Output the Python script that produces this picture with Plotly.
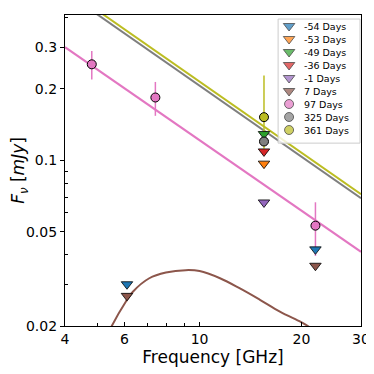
import math
import plotly.graph_objects as go

# ---------------- data ----------------
neg54_freq = [6.1, 22.0]
neg54_flux = [0.0300, 0.0421]
neg53_freq = [15.5]
neg53_flux = [0.0968]
neg49_freq = [15.5]
neg49_flux = [0.129]
neg36_freq = [15.5]
neg36_flux = [0.109]
neg1_freq = [15.5]
neg1_flux = [0.0664]
d7_freq = [6.1, 22.0]
d7_flux = [0.0268, 0.0359]
d97_freq = [4.8, 7.4, 22.0]
d97_flux = [0.254, 0.184, 0.053]
d97_err = [0.035, 0.030, 0.0135]
d325_freq = [15.5]
d325_flux = [0.120]
d361_freq = [15.5]
d361_flux = [0.152]
d361_err_plus = [0.076]
d361_err_minus = [0.040]

# power-law fits (endpoints at 4 and 30 GHz)
fit_freq = [4.0, 30.0]
fit97_flux = [0.300, 0.0411]
fit325_flux = [0.513, 0.0692]
fit361_flux = [0.534, 0.0719]

# 7-day model spectrum
model7_freq = [5.3, 5.5, 6.05, 6.35, 7.1, 7.95, 9.1, 10.0, 11.49, 13.16, 15.08, 17.27, 19.9, 20.9, 21.6]
model7_flux = [0.0178, 0.0200, 0.0253, 0.0279, 0.0318, 0.0336, 0.0344, 0.0341, 0.0318, 0.0288, 0.0258, 0.0230, 0.0208, 0.0200, 0.0194]

x_ticks = [4, 6, 10, 20, 30]
x_minor = [5, 7, 8, 9]
y_ticks = [0.02, 0.05, 0.1, 0.2, 0.3]
y_minor = [0.03, 0.04, 0.06, 0.07, 0.08, 0.09, 0.4]

legend_labels = ["-54 Days", "-53 Days", "-49 Days", "-36 Days", "-1 Days",
                 "7 Days", "97 Days", "325 Days", "361 Days"]

# ---------------- styles ----------------
C = {
    "blue": "#1f77b4", "orange": "#ff7f0e", "green": "#2ca02c", "red": "#d62728",
    "purple": "#9467bd", "brown": "#8c564b", "pink": "#e377c2", "gray": "#7f7f7f",
    "olive": "#bcbd22",
}
legend_colors = [C["blue"], C["orange"], C["green"], C["red"], C["purple"],
                 C["brown"], C["pink"], C["gray"], C["olive"]]
legend_symbols = ["triangle-down"] * 6 + ["circle"] * 3

FONT = "DejaVu Sans"
fig = go.Figure()

# lines
fig.add_trace(go.Scatter(x=fit_freq, y=fit325_flux, mode="lines",
                         line=dict(color=C["gray"], width=2), showlegend=False))
fig.add_trace(go.Scatter(x=fit_freq, y=fit361_flux, mode="lines",
                         line=dict(color=C["olive"], width=2), showlegend=False))
fig.add_trace(go.Scatter(x=fit_freq, y=fit97_flux, mode="lines",
                         line=dict(color=C["pink"], width=2), showlegend=False))
fig.add_trace(go.Scatter(x=model7_freq, y=model7_flux, mode="lines",
                         line=dict(color=C["brown"], width=2, shape="spline", smoothing=1),
                         showlegend=False))

# error bars (drawn beneath all markers)
fig.add_trace(go.Scatter(x=d97_freq, y=d97_flux, mode="markers",
                         marker=dict(size=1, opacity=0),
                         error_y=dict(type="data", array=d97_err, color=C["pink"],
                                      thickness=1.5, width=0),
                         showlegend=False))
fig.add_trace(go.Scatter(x=d361_freq, y=d361_flux, mode="markers",
                         marker=dict(size=1, opacity=0),
                         error_y=dict(type="data", array=d361_err_plus,
                                      arrayminus=d361_err_minus, symmetric=False,
                                      color=C["olive"], thickness=1.5, width=0),
                         showlegend=False))

series = [
    (neg54_freq, neg54_flux, C["blue"], "triangle-down"),
    (neg53_freq, neg53_flux, C["orange"], "triangle-down"),
    (neg49_freq, neg49_flux, C["green"], "triangle-down"),
    (neg36_freq, neg36_flux, C["red"], "triangle-down"),
    (neg1_freq, neg1_flux, C["purple"], "triangle-down"),
    (d7_freq, d7_flux, C["brown"], "triangle-down"),
    (d97_freq, d97_flux, C["pink"], "circle"),
    (d325_freq, d325_flux, C["gray"], "circle"),
    (d361_freq, d361_flux, C["olive"], "circle"),
]
for (xs, ys, col, sym), name in zip(series, legend_labels):
    fig.add_trace(go.Scatter(
        x=xs, y=ys, mode="markers", name=name, showlegend=False,
        marker=dict(symbol=sym, color=col, size=9 if sym == "circle" else 10,
                    line=dict(color="black", width=1 if sym == "circle" else 0.8))))

# ---------------- custom legend on overlay axes ----------------
box_x0, box_x1, box_y0, box_y1 = 0.72, 0.9966, 0.588, 0.987
fig.add_trace(go.Scatter(
    x=[box_x0, box_x1, box_x1, box_x0, box_x0],
    y=[box_y0, box_y0, box_y1, box_y1, box_y0],
    xaxis="x2", yaxis="y2", mode="lines", fill="toself",
    fillcolor="rgba(255,255,255,0.8)", line=dict(color="#cccccc", width=1),
    hoverinfo="skip", showlegend=False))
row_y = [(326 - (26 + 13 * i)) / 311 for i in range(len(legend_labels))]
fig.add_trace(go.Scatter(
    x=[0.757] * len(legend_labels), y=row_y, xaxis="x2", yaxis="y2", mode="markers",
    marker=dict(symbol=legend_symbols, color=legend_colors,
                size=[10 if s == "triangle-down" else 9 for s in legend_symbols],
                line=dict(color="black", width=0.8)),
    hoverinfo="skip", showlegend=False))
for lab, yy in zip(legend_labels, row_y):
    fig.add_annotation(x=0.80, y=yy, xref="x2", yref="y2", text=lab,
                       showarrow=False, xanchor="left", yanchor="middle",
                       font=dict(family=FONT, size=9.5, color="black"))

# ---------------- layout ----------------
# page body has an 8px margin, so the figure is 366 px and offset by 8 px
fig.update_layout(
    width=366, height=366,
    margin=dict(l=57, r=13, t=7, b=48, autoexpand=False),
    paper_bgcolor="white", plot_bgcolor="white",
    font=dict(family=FONT, color="black"),
    showlegend=False,
    xaxis=dict(
        type="log", range=[math.log10(4), math.log10(30)], automargin=False,
        tickmode="array", tickvals=x_ticks, ticktext=[str(v) for v in x_ticks],
        ticks="inside", ticklen=4, tickwidth=1, tickcolor="black",
        minor=dict(tickmode="array", tickvals=x_minor, ticks="inside", ticklen=3,
                   tickwidth=1, tickcolor="black", showgrid=False),
        showgrid=False, zeroline=False,
        showline=True, linecolor="black", linewidth=1.2, mirror=True,
        tickfont=dict(family=FONT, size=14, color="black"),
        title=dict(text="Frequency [GHz]", standoff=2,
                   font=dict(family=FONT, size=17, color="black")),
    ),
    yaxis=dict(
        type="log", range=[math.log10(0.02), math.log10(0.41)], automargin=False,
        tickmode="array", tickvals=y_ticks, ticktext=[str(v) for v in y_ticks],
        ticks="outside", ticklen=4, tickwidth=1, tickcolor="black",
        minor=dict(tickmode="array", tickvals=y_minor, ticks="inside", ticklen=3,
                   tickwidth=1, tickcolor="black", showgrid=False),
        showgrid=False, zeroline=False,
        showline=True, linecolor="black", linewidth=1.2, mirror=True,
        tickfont=dict(family=FONT, size=14, color="black"),
        title=dict(text="<i>F</i><sub><i>ν</i></sub> [<i>mJy</i>]", standoff=6,
                   font=dict(family=FONT, size=17, color="black")),
    ),
    xaxis2=dict(overlaying="x", anchor="y2", range=[0, 1], visible=False,
                fixedrange=True, automargin=False),
    yaxis2=dict(overlaying="y", anchor="x2", range=[0, 1], visible=False,
                fixedrange=True, automargin=False),
)

fig.write_html("out.html")
